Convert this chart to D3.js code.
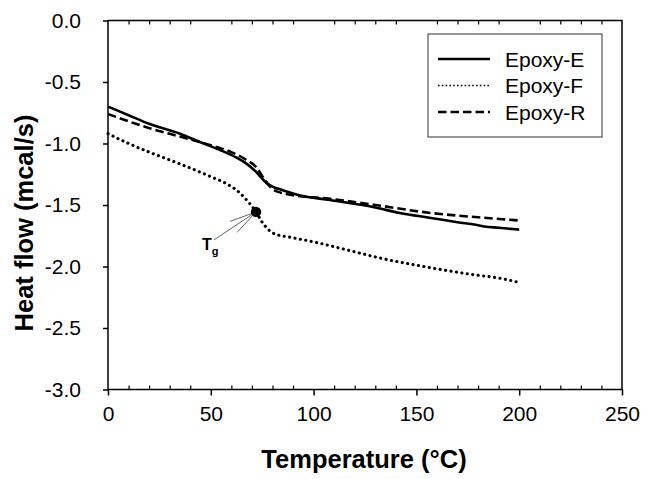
<!DOCTYPE html>
<html><head><meta charset="utf-8">
<script src="https://cdn.jsdelivr.net/npm/d3@7"></script>
<style>body{margin:0;background:#fff}svg{display:block}text{font-family:Arial,"Liberation Sans",sans-serif}</style>
</head><body><svg id="c" width="648" height="479"></svg>
<script>
const xTicks = [0, 50, 100, 150, 200, 250];
const yTicks = [0, -0.5, -1.0, -1.5, -2.0, -2.5, -3.0];
const seriesNames = ["Epoxy-E", "Epoxy-F", "Epoxy-R"];
const tempE = [0,10,20,35,45,54,62,67,72,77,80,85,93,108,130,142,157,170,180,183,190,200];
const flowE = [-0.70,-0.77,-0.84,-0.92,-0.99,-1.05,-1.11,-1.16,-1.23,-1.32,-1.35,-1.38,-1.42,-1.46,-1.52,-1.565,-1.605,-1.64,-1.665,-1.675,-1.685,-1.70];
const tempF = [0,10,20,35,50,58,64,68,72,75,78,81,88,100,115,132,157,175,192,200];
const flowF = [-0.92,-1.0,-1.07,-1.166,-1.27,-1.33,-1.40,-1.47,-1.556,-1.64,-1.70,-1.735,-1.76,-1.80,-1.86,-1.93,-2.01,-2.06,-2.10,-2.13];
const tempR = [0,10,20,35,45,54,60,67,72,76,80,84,90,108,130,157,180,200];
const flowR = [-0.76,-0.82,-0.875,-0.944,-0.99,-1.035,-1.07,-1.13,-1.19,-1.29,-1.37,-1.40,-1.42,-1.45,-1.50,-1.565,-1.60,-1.626];
const tgPoint = [72, -1.556];
const tgLabel = ["T", "g"];

const svg = d3.select("#c");
const L = 108, R = 622, T = 20.5, B = 389.5;
const x = d3.scaleLinear().domain([0, 250]).range([L, R]);
const y = d3.scaleLinear().domain([-3, 0]).range([B, T]);
const fmtY = v => d3.format(".1f")(v).replace("\u2212", "-");

// frame
svg.append("rect").attr("x", L).attr("y", T).attr("width", R - L).attr("height", B - T)
  .attr("fill", "none").attr("stroke", "#000").attr("stroke-width", 1.5);

// top minor ticks (inward)
const minorX = d3.range(0, 251, 10).filter(v => v % 50 !== 0);
svg.append("g").attr("transform", `translate(0,${T})`)
  .call(d3.axisBottom(x).tickValues(minorX).tickSize(4).tickFormat(""))
  .call(g => { g.select(".domain").remove(); g.selectAll("line").attr("stroke-width", 1.2); });
// bottom minor ticks (inward)
svg.append("g").attr("transform", `translate(0,${B})`)
  .call(d3.axisTop(x).tickValues(minorX).tickSize(4).tickFormat(""))
  .call(g => { g.select(".domain").remove(); g.selectAll("line").attr("stroke-width", 1.2); });
// bottom major axis
svg.append("g").attr("transform", `translate(0,${B})`)
  .call(d3.axisBottom(x).tickValues(xTicks).tickSize(6).tickPadding(11).tickFormat(d3.format("d")))
  .call(g => { g.select(".domain").remove(); g.selectAll("line").attr("stroke-width", 1.5);
    g.selectAll("text").attr("font-size", 21).attr("fill", "#000"); });
// left axis
svg.append("g").attr("transform", `translate(${L},0)`)
  .call(d3.axisLeft(y).tickValues(yTicks).tickSize(5).tickPadding(22).tickFormat(fmtY))
  .call(g => { g.select(".domain").remove(); g.selectAll("line").attr("stroke-width", 1.5);
    g.selectAll("text").attr("font-size", 21).attr("fill", "#000"); });

// titles
svg.append("text").attr("x", (L + R) / 2 - 1).attr("y", 468).attr("text-anchor", "middle")
  .attr("font-size", 25.5).attr("font-weight", "bold").text("Temperature (°C)");
svg.append("text").attr("transform", "translate(33,223) rotate(-90)").attr("text-anchor", "middle")
  .attr("font-size", 25.5).attr("font-weight", "bold").text("Heat flow (mcal/s)");

const line = d3.line().x(d => x(d[0])).y(d => y(d[1])).curve(d3.curveMonotoneX);
const styles = [
  { dash: null, cap: "butt", w: 2.6 },
  { dash: "0.1 5.4", cap: "round", w: 3.1 },
  { dash: "8.5 4", cap: "butt", w: 2.6 }
];
const data = [d3.zip(tempE, flowE), d3.zip(tempF, flowF), d3.zip(tempR, flowR)];
data.forEach((d, i) => {
  svg.append("path").datum(d).attr("d", line).attr("fill", "none").attr("stroke", "#000")
    .attr("stroke-width", styles[i].w).attr("stroke-dasharray", styles[i].dash)
    .attr("stroke-linecap", styles[i].cap);
});

// Tg marker and arrow
const px = x(tgPoint[0]), py = y(tgPoint[1]);
const tail = [px - 42, py + 28];
svg.append("line").attr("x1", tail[0]).attr("y1", tail[1]).attr("x2", px).attr("y2", py)
  .attr("stroke", "#666").attr("stroke-width", 1);
[[px - 26, py + 9.5], [px - 19, py + 20.5]].forEach(p => {
  svg.append("line").attr("x1", p[0]).attr("y1", p[1]).attr("x2", px).attr("y2", py)
    .attr("stroke", "#666").attr("stroke-width", 1);
});
svg.append("circle").attr("cx", px).attr("cy", py).attr("r", 5.2).attr("fill", "#000");
svg.append("text").attr("x", px - 54).attr("y", py + 38).attr("font-size", 16).attr("font-weight", "bold")
  .text(tgLabel[0]).append("tspan").attr("font-size", 11).attr("dy", 5).text(tgLabel[1]);

// legend
const lg = svg.append("g");
lg.append("rect").attr("x", 428).attr("y", 34).attr("width", 174).attr("height", 103)
  .attr("fill", "#fff").attr("stroke", "#333").attr("stroke-width", 1);
seriesNames.forEach((n, i) => {
  const yy = 59 + i * 26.5;
  lg.append("line").attr("x1", 438).attr("x2", 490).attr("y1", yy).attr("y2", yy)
    .attr("stroke", "#000").attr("stroke-width", i === 1 ? 1.5 : 2.6)
    .attr("stroke-dasharray", i === 1 ? "1.6 2.2" : styles[i].dash);
  lg.append("text").attr("x", 505).attr("y", yy).attr("dy", "0.36em").attr("font-size", 21).text(n);
});
</script></body></html>
